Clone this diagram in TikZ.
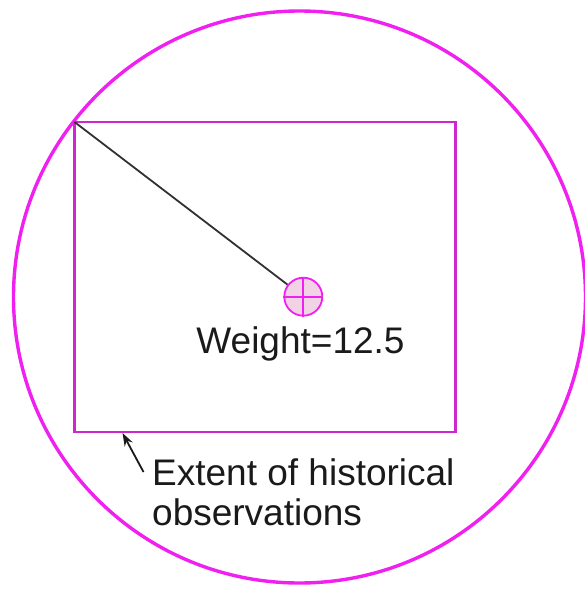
\documentclass[tikz,border=0pt]{standalone}
\usepackage{fontspec}
\setmainfont{Liberation Sans}
\usetikzlibrary{arrows.meta}
\definecolor{mag}{HTML}{F020F0}
\definecolor{magfill}{HTML}{F2D3E6}
\definecolor{txt}{HTML}{1A1A1A}
\tikzset{
  outer/.style={draw=mag, line width=3.4pt},
  extent/.style={draw=mag!85!black!95, line width=2.2pt},
  marker/.style={circle, draw=mag, fill=magfill, line width=1.8pt, minimum size=38pt, inner sep=0pt},
  lbl/.style={text=txt, font=\fontsize{37}{40}\selectfont, inner sep=0pt},
  link/.style={draw=txt!90, line width=1.8pt},
  pointer/.style={draw=txt, line width=1.8pt, -{Stealth[length=13pt, width=9pt]}}
}
\begin{document}
\begin{tikzpicture}[x=1pt, y=-1pt]
\useasboundingbox (0,0) rectangle (585,589);
\draw[outer] (299.5,297) circle (286);
\draw[extent] (74.5,122) rectangle (455.5,432);
\coordinate (corner) at (74.5,122);
\coordinate (edge) at (122.5,433);
\coordinate (tail) at (143.5,472);
\node[marker] (w) at (303.3,296.7) {};
\draw[mag, line width=1.8pt] (w.north) -- (w.south) (w.west) -- (w.east);
\draw[link] (corner) -- (w);
\node[lbl, anchor=base] (weight) at (300.5,353) {Weight=12.5};
\node[lbl, anchor=base west, align=left] (ext) at (152,525) {Extent of historical\\observations};
\draw[pointer] (tail) -- (edge);
\end{tikzpicture}
\end{document}
